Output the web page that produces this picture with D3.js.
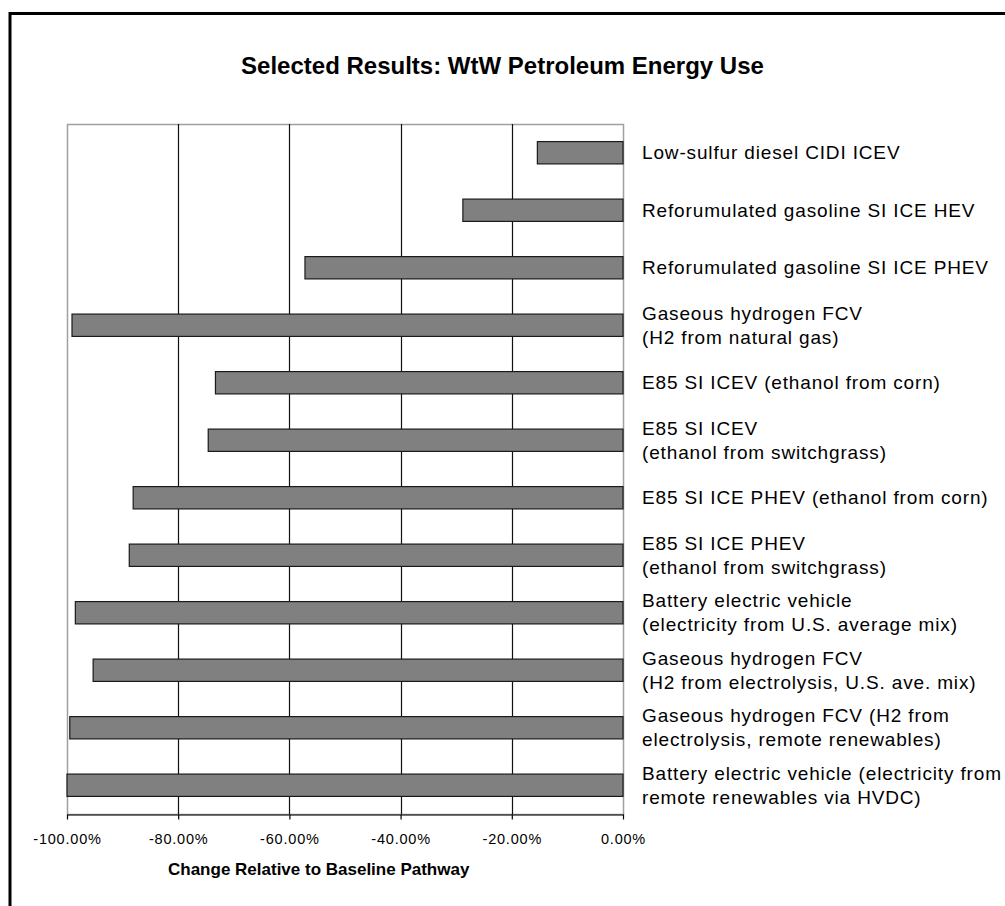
<!DOCTYPE html>
<html>
<head>
<meta charset="utf-8">
<script src="https://cdn.jsdelivr.net/npm/d3@7"></script>
<style>
	body { margin: 0; background: #fff; }
	svg { display: block; font-family: "Liberation Sans", Arial, sans-serif; }
</style>
</head>
<body>
<div id="chart"></div>
<script>
const categories = [
	"Low-sulfur diesel CIDI ICEV",
	"Reforumulated gasoline SI ICE HEV",
	"Reforumulated gasoline SI ICE PHEV",
	"Gaseous hydrogen FCV\n(H2 from natural gas)",
	"E85 SI ICEV (ethanol from corn)",
	"E85 SI ICEV\n(ethanol from switchgrass)",
	"E85 SI ICE PHEV (ethanol from corn)",
	"E85 SI ICE PHEV\n(ethanol from switchgrass)",
	"Battery electric vehicle\n(electricity from U.S. average mix)",
	"Gaseous hydrogen FCV\n(H2 from electrolysis, U.S. ave. mix)",
	"Gaseous hydrogen FCV (H2 from\nelectrolysis, remote renewables)",
	"Battery electric vehicle (electricity from\nremote renewables via HVDC)"
];

// change in petroleum energy use, percent
const changes = [-15.4, -28.8, -57.2, -99.1, -73.3, -74.6, -88.1, -88.8, -98.5, -95.3, -99.5, -100.0];

const xTicks = [-100, -80, -60, -40, -20, 0];

const title = "Selected Results: WtW Petroleum Energy Use";
const xTitle = "Change Relative to Baseline Pathway";

const width = 1005, height = 906;
const plot = { left: 67, right: 623, top: 124, bottom: 814 };

let svg = d3.select("#chart").append("svg")
	.attr("width", width)
	.attr("height", height);

svg.append("rect")
	.attr("width", width)
	.attr("height", height)
	.attr("fill", "#fff");

// outer frame, runs off the right and bottom of the picture
svg.append("rect")
	.attr("x", 10)
	.attr("y", 13.5)
	.attr("width", width + 20)
	.attr("height", height + 20)
	.attr("fill", "none")
	.attr("stroke", "#000")
	.attr("stroke-width", 3);

svg.append("text")
	.attr("x", 502.5)
	.attr("y", 74)
	.attr("text-anchor", "middle")
	.attr("font-size", 24)
	.attr("font-weight", "bold")
	.text(title);

let x = d3.scaleLinear()
	.domain([-100, 0])
	.range([plot.left, plot.right]);

let y = d3.scaleBand()
	.domain(categories)
	.range([plot.top, plot.bottom])
	.paddingInner(0.612)
	.paddingOuter(0.306);

// plot area border
svg.append("rect")
	.attr("x", plot.left + 0.5)
	.attr("y", plot.top + 0.5)
	.attr("width", plot.right - plot.left)
	.attr("height", plot.bottom - plot.top)
	.attr("fill", "none")
	.attr("stroke", "#a0a0a0")
	.attr("stroke-width", 1.5);

svg.append("g")
	.attr("class", "grid")
	.selectAll("line")
	.data(xTicks.filter(d => d > -100 && d < 0))
	.join("line")
		.attr("x1", d => Math.round(x(d)) + 0.5)
		.attr("x2", d => Math.round(x(d)) + 0.5)
		.attr("y1", plot.top)
		.attr("y2", plot.bottom)
		.attr("stroke", "#111")
		.attr("stroke-width", 1.2);

svg.append("g")
	.attr("class", "bars")
	.selectAll("rect")
	.data(categories)
	.join("rect")
		.attr("x", (d, i) => x(changes[i]))
		.attr("y", d => y(d))
		.attr("width", (d, i) => x(0) - x(changes[i]))
		.attr("height", y.bandwidth())
		.attr("fill", "#808080")
		.attr("stroke", "#1a1a1a")
		.attr("stroke-width", 1.2);

let axis = svg.append("g")
	.attr("class", "axis x")
	.attr("transform", `translate(0, ${plot.bottom + 0.5})`)
	.call(d3.axisBottom(x)
		.tickValues(xTicks)
		.tickSize(5)
		.tickSizeOuter(0)
		.tickPadding(14)
		.tickFormat(d => d.toFixed(2) + "%"));

axis.select(".domain").attr("stroke", "#000").attr("stroke-width", 1.2);
axis.selectAll(".tick line").attr("stroke", "#000").attr("stroke-width", 1.2);
axis.selectAll(".tick text")
	.attr("font-family", "Liberation Sans, Arial, sans-serif")
	.attr("font-size", 14.5)
	.style("letter-spacing", "0.8px")
	.attr("fill", "#000");

svg.append("text")
	.attr("x", 168)
	.attr("y", 875)
	.attr("font-size", 17)
	.attr("font-weight", "bold")
	.text(xTitle);

// category labels on the right of the plot
let labels = svg.append("g")
	.attr("class", "labels")
	.selectAll("text")
	.data(categories)
	.join("text")
		.attr("x", 642)
		.attr("y", d => y(d) + y.bandwidth() / 2 + 6.5)
		.attr("font-size", 19)
		.style("letter-spacing", "0.85px")
		.attr("fill", "#000");

labels.each(function (d) {
	let lines = d.split("\n");
	let sel = d3.select(this);
	lines.forEach((line, i) => {
		sel.append("tspan")
			.attr("x", 642)
			.attr("dy", i === 0 ? -(lines.length - 1) * 12 : 24)
			.text(line);
	});
});
</script>
</body>
</html>
